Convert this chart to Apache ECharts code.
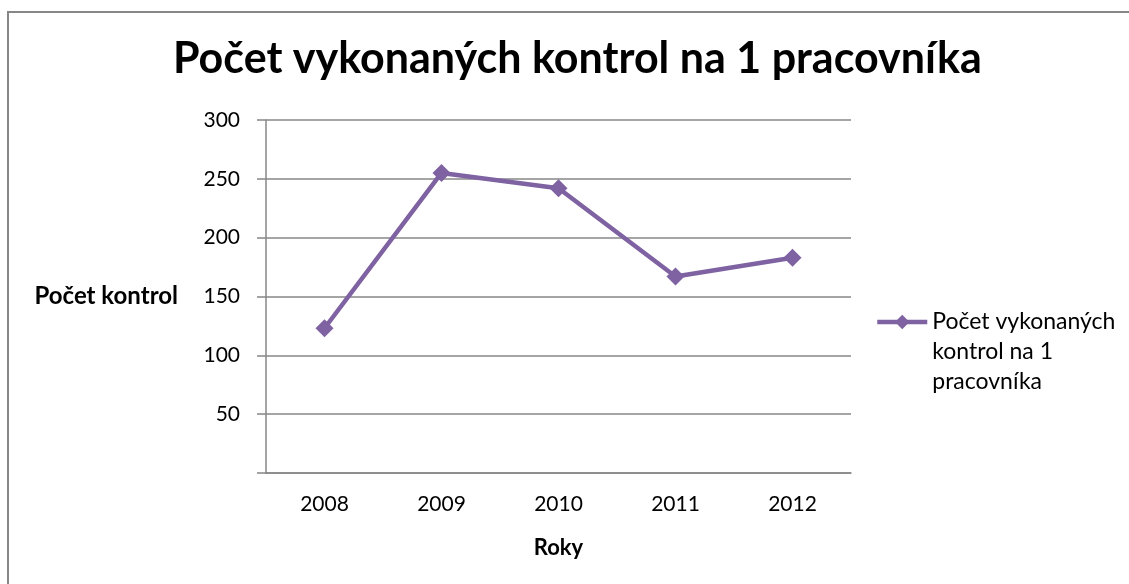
<!DOCTYPE html>
<html>
<head>
<meta charset="utf-8">
<script src="https://cdn.jsdelivr.net/npm/echarts@6/dist/echarts.min.js"></script>
<style>
  html, body { margin: 0; padding: 0; background: #fff; }
  #chart { width: 1129px; height: 584px; }
</style>
</head>
<body>
<div id="chart"></div>
<script>
// ---- data ----
const years = ["2008", "2009", "2010", "2011", "2012"];
const kontrolyNaPracovnika = [123, 255, 242, 167, 183];
const seriesName = "Počet vykonaných kontrol na 1 pracovníka";

const chart = echarts.init(document.getElementById("chart"));
const purple = "#7E62A1";
const gridGray = "#878787";
const font = "Lato, 'Open Sans', sans-serif";

const option = {
  backgroundColor: "#fff",
  animation: false,
  graphic: [{
    type: "rect",
    shape: { x: 8, y: 12, width: 1200, height: 700 },
    style: { fill: "none", stroke: gridGray, lineWidth: 2 },
    silent: true
  }],
  title: {
    text: seriesName,
    left: 168,
    top: 33,
    textStyle: { fontFamily: font, fontSize: 43, fontWeight: "bold", color: "#000" }
  },
  legend: {
    left: 875,
    top: 247,
    padding: 0,
    orient: "vertical",
    itemWidth: 50,
    itemHeight: 18,
    // two blank lines on top keep the marker beside the first text line
    formatter: () => "\u00a0\n\u00a0\nPočet vykonaných\nkontrol na 1\npracovníka",
    textStyle: { fontFamily: font, fontSize: 23, color: "#000", lineHeight: 30 },
    lineStyle: { width: 4.5 },
    data: [seriesName]
  },
  grid: { left: 266, top: 120, width: 585, height: 353 },
  xAxis: {
    type: "category",
    data: years,
    name: "Roky",
    nameLocation: "middle",
    nameGap: 64,
    nameTextStyle: { fontFamily: font, fontSize: 22, fontWeight: "bold", color: "#000" },
    axisLine: { lineStyle: { color: gridGray, width: 1.5 } },
    axisTick: { length: 7, lineStyle: { color: gridGray, width: 1.5 } },
    axisLabel: { margin: 21, fontFamily: font, fontSize: 21, color: "#000" }
  },
  yAxis: {
    type: "value",
    min: 0,
    max: 300,
    interval: 50,
    name: "Počet kontrol",
    nameLocation: "middle",
    nameRotate: 0,
    nameGap: 88,
    nameTextStyle: { fontFamily: font, fontSize: 24, fontWeight: "bold", color: "#000" },
    axisLine: { show: true, lineStyle: { color: gridGray, width: 1.5 } },
    axisTick: { show: true, length: 9, lineStyle: { color: gridGray, width: 1.5 } },
    axisLabel: {
      margin: 26, fontFamily: font, fontSize: 21, color: "#000",
      formatter: v => (v === 0 ? "" : v)
    },
    splitLine: { lineStyle: { color: gridGray, width: 1.5 } }
  },
  series: [{
    name: seriesName,
    type: "line",
    data: kontrolyNaPracovnika,
    symbol: "diamond",
    symbolSize: 18,
    itemStyle: { color: purple },
    lineStyle: { color: purple, width: 4.5 }
  }]
};

chart.setOption(option);
window.addEventListener("resize", chart.resize);
</script>
</body>
</html>
